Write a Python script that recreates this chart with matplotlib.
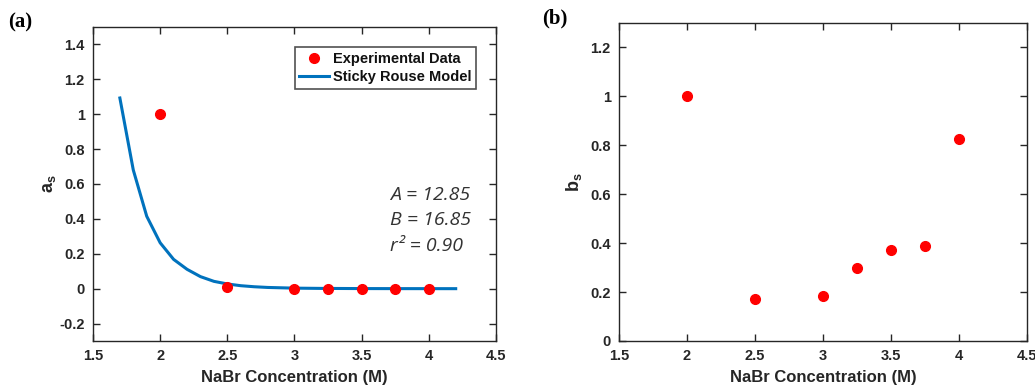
# two panel figure: a_s with sticky rouse fit, and b_s
import matplotlib
matplotlib.use('Agg')
import matplotlib.pyplot as plt

# data
conc = [2.0, 2.5, 3.0, 3.25, 3.5, 3.75, 4.0]
a_s = [1.0, 0.012, 0.0, 0.0, 0.0, 0.0, 0.0]
b_s = [1.0, 0.17, 0.186, 0.298, 0.372, 0.39, 0.827]

# model curve
fit_x = [1.7, 1.8, 1.9, 2.0, 2.1, 2.2, 2.3, 2.4, 2.5, 2.6, 2.7, 2.8, 3.0, 3.2, 3.5, 3.8, 4.2]
fit_y = [1.093, 0.68, 0.415, 0.263, 0.168, 0.111, 0.069, 0.042, 0.027, 0.017, 0.011, 0.007, 0.003, 0.0015, 0.0005, 0.0002, 0.0]

plt.rcParams['font.family'] = ['Liberation Sans', 'DejaVu Sans']
plt.rcParams['font.weight'] = 'bold'
plt.rcParams['mathtext.fontset'] = 'custom'
plt.rcParams['mathtext.bf'] = 'Liberation Sans:bold'
plt.rcParams['mathtext.rm'] = 'Liberation Sans:bold'

dark = '#262626'
red = '#ff0000'
blue = '#0072bd'

fig = plt.figure(figsize=(10.35, 3.85), dpi=100)
W, H = 1035, 385
ax1 = fig.add_axes([93 / W, 1 - 341 / H, (496 - 93) / W, (341 - 27) / H])
ax2 = fig.add_axes([619 / W, 1 - 341 / H, (1027 - 619) / W, (341 - 23) / H])


def style(ax):
    for sp in ax.spines.values():
        sp.set_color(dark)
        sp.set_linewidth(1.0)
    ax.tick_params(direction='in', top=True, right=True, length=5, width=1,
                   colors=dark, labelsize=10.5, pad=6)
    for lab in ax.get_xticklabels() + ax.get_yticklabels():
        lab.set_fontweight('bold')
    ax.set_xlabel('NaBr Concentration (M)', fontsize=12, fontweight='bold', color=dark, labelpad=5)


# panel (a)
ax1.plot(fit_x, fit_y, color=blue, lw=2.2, label='Sticky Rouse Model', zorder=2)
ax1.plot(conc, a_s, 'o', color=red, ms=7, label='Experimental Data', zorder=3)
ax1.set_xlim(1.5, 4.5)
ax1.set_ylim(-0.3, 1.5)
ax1.set_xticks([1.5, 2, 2.5, 3, 3.5, 4, 4.5])
ax1.set_xticklabels(['1.5', '2', '2.5', '3', '3.5', '4', '4.5'])
ax1.set_yticks([-0.2, 0, 0.2, 0.4, 0.6, 0.8, 1, 1.2, 1.4])
ax1.set_yticklabels(['-0.2', '0', '0.2', '0.4', '0.6', '0.8', '1', '1.2', '1.4'])
style(ax1)
ax1.set_ylabel(r'$\mathbf{a_s}$', fontsize=13, color=dark, labelpad=1)
h, l = ax1.get_legend_handles_labels()
leg = ax1.legend(h[::-1], l[::-1], loc='upper right', bbox_to_anchor=(0.95, 0.935),
                 fontsize=10.5, frameon=True, fancybox=False, edgecolor=dark,
                 borderpad=0.3, handlelength=2.0, handletextpad=0.3,
                 labelspacing=0.3, borderaxespad=0)
leg.get_frame().set_linewidth(1.2)
for t in leg.get_texts():
    t.set_fontweight('bold')
    t.set_color('#111111')

for i, s in enumerate(['A = 12.85', 'B = 16.85', 'r² = 0.90']):
    ax1.text(0.737, 0.465 - i * 0.081, s, transform=ax1.transAxes, fontsize=14,
             family=['Open Sans', 'DejaVu Sans'], style='italic', fontweight='normal',
             color='#333333', va='center', ha='left')

# panel (b)
ax2.plot(conc, b_s, 'o', color=red, ms=7)
ax2.set_xlim(1.5, 4.5)
ax2.set_ylim(0, 1.3)
ax2.set_xticks([1.5, 2, 2.5, 3, 3.5, 4, 4.5])
ax2.set_xticklabels(['1.5', '2', '2.5', '3', '3.5', '4', '4.5'])
ax2.set_yticks([0, 0.2, 0.4, 0.6, 0.8, 1, 1.2])
ax2.set_yticklabels(['0', '0.2', '0.4', '0.6', '0.8', '1', '1.2'])
style(ax2)
ax2.set_ylabel(r'$\mathbf{b_s}$', fontsize=13, color=dark, labelpad=4)

fig.text(8 / W, 1 - 22 / H, '(a)', fontsize=15, fontweight='bold',
         family=['Liberation Serif'], va='center', ha='left')
fig.text(542 / W, 1 - 18 / H, '(b)', fontsize=15, fontweight='bold',
         family=['Liberation Serif'], va='center', ha='left')

fig.savefig('out.png', dpi=100)
